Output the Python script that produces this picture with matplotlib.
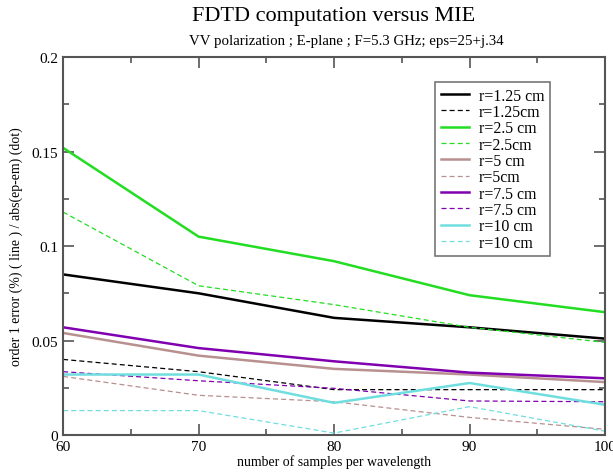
import matplotlib
matplotlib.use('Agg')
import matplotlib.pyplot as plt
from matplotlib.ticker import MultipleLocator, FuncFormatter

plt.rcParams['font.family'] = ['Liberation Serif', 'DejaVu Serif']

samples = [60, 70, 80, 90, 100]

# order 1 error (%) - solid lines
err_125 = [0.085, 0.075, 0.062, 0.057, 0.051]
err_25 = [0.152, 0.105, 0.092, 0.074, 0.065]
err_5 = [0.054, 0.042, 0.035, 0.032, 0.028]
err_75 = [0.057, 0.046, 0.039, 0.033, 0.030]
err_10 = [0.032, 0.032, 0.017, 0.0275, 0.016]

# abs(ep-em) - dotted lines
dif_125 = [0.040, 0.0335, 0.024, 0.024, 0.024]
dif_25 = [0.118, 0.079, 0.069, 0.057, 0.049]
dif_5 = [0.031, 0.021, 0.0176, 0.0093, 0.003]
dif_75 = [0.0335, 0.0287, 0.0247, 0.018, 0.0176]
dif_10 = [0.0129, 0.0129, 0.001, 0.015, 0.002]

series = [
    (err_125, dif_125, 'black', 'r=1.25 cm', 'r=1.25cm'),
    (err_25, dif_25, '#22dd22', 'r=2.5 cm', 'r=2.5cm'),
    (err_5, dif_5, '#b89090', 'r=5 cm', 'r=5cm'),
    (err_75, dif_75, '#8000b0', 'r=7.5 cm', 'r=7.5 cm'),
    (err_10, dif_10, '#70dede', 'r=10 cm', 'r=10 cm'),
]

fig = plt.figure(figsize=(6.13, 4.77), dpi=100)
ax = fig.add_axes([0.103, 0.086, 0.884, 0.792])

for err, dif, col, lab1, lab2 in series:
    ax.plot(samples, err, color=col, lw=1.8, label=lab1)
    ax.plot(samples, dif, color=col, lw=0.9, ls=(0, (4, 2.5)), label=lab2)

ax.set_xlim(60, 100)
ax.set_ylim(0, 0.2)
ax.xaxis.set_major_locator(MultipleLocator(10))
ax.xaxis.set_minor_locator(MultipleLocator(5))
ax.yaxis.set_major_locator(MultipleLocator(0.05))
ax.yaxis.set_minor_locator(MultipleLocator(0.025))
ax.yaxis.set_major_formatter(FuncFormatter(lambda v, p: '0' if v == 0 else ('%g' % v)))
ax.tick_params(which='both', direction='in', top=True, right=True, color='#555555', labelsize=11)
ax.tick_params(which='major', length=8, width=1.2)
ax.tick_params(which='minor', length=4, width=1.2)
for s in ax.spines.values():
    s.set_color('#555555')
    s.set_linewidth(1.5)

ax.set_xlabel('number of samples per wavelength', fontsize=10, labelpad=1)
ax.set_ylabel('order 1 error (%) ( line ) / abs(ep-em) (dot)', fontsize=10, labelpad=6)

fig.text(0.545, 0.965, 'FDTD computation versus MIE', ha='center', va='center', fontsize=16)
fig.text(0.565, 0.912, 'VV polarization ; E-plane ; F=5.3 GHz; eps=25+j.34', ha='center', va='center', fontsize=10.7)

leg = ax.legend(loc='upper right', bbox_to_anchor=(0.8985, 0.934), borderaxespad=0, fontsize=11.4,
                frameon=True, fancybox=False, edgecolor='#555555', handlelength=1.8,
                handletextpad=0.6, labelspacing=0.02, borderpad=0.35)
leg.get_frame().set_linewidth(1.2)

fig.savefig('out.png', dpi=100)
